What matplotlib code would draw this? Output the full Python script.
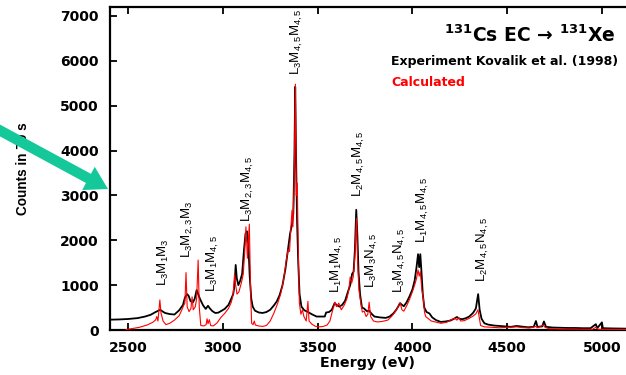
import matplotlib
matplotlib.use("Agg")
import matplotlib.pyplot as plt

plt.rcParams['mathtext.fontset'] = 'custom'
plt.rcParams['mathtext.rm'] = 'Liberation Sans'
plt.rcParams['mathtext.bf'] = 'DejaVu Sans:bold'

# experiment (Kovalik et al. 1998)
exp_e = [2405, 2450, 2500, 2550, 2590, 2620, 2645, 2660, 2670, 2680, 2695, 2720, 2745, 2770, 2790,
         2800, 2812, 2820, 2830, 2843, 2852, 2862, 2870, 2880, 2896, 2910, 2922, 2932, 2945, 2960,
         2975, 2990, 3010, 3030, 3045, 3055, 3062, 3068, 3074, 3082, 3092, 3102, 3112, 3120, 3128,
         3135, 3142, 3150, 3158, 3170, 3190, 3210, 3230, 3250, 3270, 3285, 3300, 3315, 3330, 3345,
         3355, 3365, 3372, 3378, 3382, 3386, 3392, 3398, 3405, 3415, 3430, 3450, 3470, 3495, 3520,
         3538, 3545, 3560, 3575, 3590, 3600, 3615, 3630, 3645, 3660, 3672, 3682, 3690, 3697, 3704,
         3710, 3716, 3724, 3734, 3745, 3760, 3772, 3785, 3800, 3830, 3860, 3880, 3900, 3915, 3925,
         3935, 3945, 3955, 3970, 3985, 4000, 4012, 4022, 4030, 4036, 4042, 4048, 4055, 4063, 4075,
         4090, 4105, 4125, 4150, 4175, 4200, 4220, 4235, 4248, 4262, 4280, 4300, 4320, 4335, 4347,
         4355, 4365, 4380, 4400, 4430, 4460, 4490, 4520, 4550, 4580, 4610, 4640, 4652, 4660, 4685,
         4694, 4705, 4740, 4780, 4820, 4860, 4900, 4940, 4968, 4975, 5000, 5005, 5050, 5127]
exp_c = [230, 235, 245, 265, 300, 340, 400, 430, 450, 420, 380, 355, 345, 440, 560,
         720, 800, 760, 640, 620, 700, 890, 800, 690, 550, 470, 540, 480, 420, 380,
         385, 420, 470, 560, 700, 800, 1000, 1450, 1150, 1000, 1100, 1250, 1800, 2150, 2200,
         1900, 1200, 700, 520, 430, 390, 380, 400, 450, 550, 640, 780, 1000, 1350, 1830,
         2150, 2350, 2600, 3900, 5420, 4000, 2400, 1500, 800, 520, 440, 400, 350, 300, 300,
         300, 390, 400, 450, 600, 560, 520, 560, 650, 850, 1000, 1250, 1300, 1800, 2680,
         2100, 1300, 800, 500, 480, 420, 430, 360, 300, 280, 270, 300, 370, 450, 520,
         600, 560, 530, 620, 750, 900, 1100, 1400, 1690, 1400, 1690, 1300, 800, 500, 400,
         370, 280, 220, 180, 190, 210, 250, 290, 250, 240, 260, 300, 380, 480, 800,
         450, 250, 150, 120, 100, 90, 80, 70, 90, 75, 60, 70, 200, 70, 80,
         190, 70, 55, 50, 45, 45, 40, 40, 130, 40, 170, 40, 35, 30]

# calculated spectrum
calc_e = [2490, 2520, 2560, 2600, 2630, 2645, 2652, 2658, 2668, 2674, 2685, 2700, 2720, 2745, 2770,
          2785, 2795, 2800, 2806, 2812, 2822, 2832, 2838, 2844, 2855, 2862, 2870, 2876, 2884, 2900,
          2912, 2917, 2922, 2929, 2936, 2950, 2970, 2990, 3010, 3030, 3045, 3055, 3062, 3068, 3075,
          3085, 3098, 3108, 3115, 3122, 3130, 3140, 3146, 3152, 3160, 3166, 3172, 3190, 3210, 3230,
          3250, 3270, 3290, 3305, 3320, 3335, 3345, 3352, 3358, 3365, 3370, 3376, 3383, 3388, 3393,
          3398, 3404, 3412, 3420, 3428, 3440, 3449, 3455, 3470, 3490, 3510, 3530, 3550, 3565, 3580,
          3592, 3600, 3612, 3625, 3640, 3655, 3665, 3672, 3680, 3688, 3696, 3705, 3711, 3718, 3728,
          3736, 3746, 3756, 3765, 3772, 3780, 3795, 3815, 3840, 3870, 3890, 3905, 3920, 3930, 3936,
          3945, 3955, 3970, 3985, 4000, 4012, 4022, 4030, 4036, 4042, 4050, 4058, 4064, 4070, 4085,
          4100, 4120, 4150, 4180, 4205, 4225, 4235, 4245, 4255, 4275, 4300, 4320, 4335, 4346, 4352,
          4360, 4380, 4420, 4460, 4500, 4550, 4580, 4620, 4650, 4660, 4690, 4700, 4720, 4780, 4850,
          4950, 4968, 4980, 5127]
calc_c = [10, 30, 60, 110, 170, 220, 300, 200, 670, 380, 200, 120, 150, 220, 320,
          460, 560, 600, 1280, 520, 410, 480, 740, 450, 520, 700, 1560, 500, 100, 90,
          120, 250, 140, 230, 100, 90, 160, 280, 370, 480, 620, 800, 1250, 1000, 800,
          850, 1050, 1250, 1700, 2300, 1600, 2360, 1000, 150, 120, 200, 110, 90, 80, 100,
          200, 380, 600, 800, 1100, 1550, 1800, 1750, 2200, 2670, 2300, 3200, 5480, 3000, 3270,
          1800, 600, 350, 450, 300, 200, 640, 200, 130, 80, 70, 80, 110, 200, 450,
          620, 520, 600, 450, 550, 700, 900, 1180, 1050, 1180, 1600, 2490, 1600, 900, 600,
          400, 420, 300, 350, 620, 300, 200, 180, 190, 220, 300, 380, 480, 580, 600,
          450, 420, 540, 680, 850, 1000, 1150, 1340, 1200, 1300, 900, 700, 400, 300, 250,
          200, 180, 150, 170, 230, 260, 220, 280, 200, 210, 260, 310, 360, 450, 300,
          100, 70, 60, 50, 60, 70, 55, 45, 80, 50, 110, 60, 30, 20, 20,
          15, 60, 15, 10]

# transition labels: text, energy, counts at the label foot
line_labels = [r'L$_3$M$_1$M$_3$', r'L$_3$M$_{2,3}$M$_3$', r'L$_3$M$_1$M$_{4,5}$',
               r'L$_3$M$_{2,3}$M$_{4,5}$', r'L$_3$M$_{4,5}$M$_{4,5}$', r'L$_1$M$_1$M$_{4,5}$',
               r'L$_2$M$_{4,5}$M$_{4,5}$', r'L$_3$M$_3$N$_{4,5}$', r'L$_3$M$_{4,5}$N$_{4,5}$',
               r'L$_1$M$_{4,5}$M$_{4,5}$', r'L$_2$M$_{4,5}$N$_{4,5}$']
label_e = [2685, 2816, 2948, 3133, 3391, 3602, 3718, 3787, 3935, 4056, 4372]
label_c = [980, 1600, 850, 2400, 5680, 825, 2965, 935, 825, 1940, 1070]

fig = plt.figure(figsize=(6.26, 3.75), dpi=100)
ax = fig.add_axes([110 / 626, 45 / 375, 516 / 626, 323 / 375])

ax.plot(exp_e, exp_c, color='black', linewidth=1.3, zorder=2)
ax.plot(calc_e, calc_c, color='red', linewidth=0.8, zorder=3)

for txt, e, c in zip(line_labels, label_e, label_c):
    ax.text(e, c, txt, rotation=90, ha='center', va='bottom', fontsize=9.5,
            family='Liberation Sans')

ax.set_xlim(2405, 5127)
ax.set_ylim(0, 7200)
ax.set_xticks([2500, 3000, 3500, 4000, 4500, 5000])
ax.set_yticks([0, 1000, 2000, 3000, 4000, 5000, 6000, 7000])
ax.tick_params(direction='in', length=5, width=1.3, top=True, right=False, pad=8)
for lbl in ax.get_xticklabels() + ax.get_yticklabels():
    lbl.set_fontweight('bold')
    lbl.set_fontsize(10)
for side in ['left', 'bottom', 'top']:
    ax.spines[side].set_linewidth(1.6)
ax.spines['right'].set_visible(False)

ax.set_xlabel('Energy (eV)', fontsize=10.3, fontweight='bold', labelpad=1)
ax.set_ylabel('Counts in 70 s', fontsize=9.8, fontweight='bold', family='Liberation Sans',
              labelpad=22)

fig.text(615 / 626, 1 - 42 / 375, r'$^{\mathbf{131}}$Cs EC → $^{\mathbf{131}}$Xe',
         ha='right', va='baseline', fontsize=13.5, fontweight='bold')
fig.text(391 / 626, 1 - 62 / 375, 'Experiment Kovalik et al. (1998)', ha='left', va='center',
         fontsize=9, fontweight='bold', color='black')
fig.text(391 / 626, 1 - 82 / 375, 'Calculated', ha='left', va='center',
         fontsize=9, fontweight='bold', color='red')

ax.annotate('', xy=(108, 375 - 189), xycoords='figure pixels',
            xytext=(-12, 375 - 124), textcoords='figure pixels',
            arrowprops=dict(arrowstyle='simple,head_length=1.6,head_width=1.9,tail_width=0.75',
                            fc='#14c89a', ec='none', mutation_scale=10, shrinkA=0, shrinkB=0),
            annotation_clip=False)

fig.savefig('out.png', dpi=100)
